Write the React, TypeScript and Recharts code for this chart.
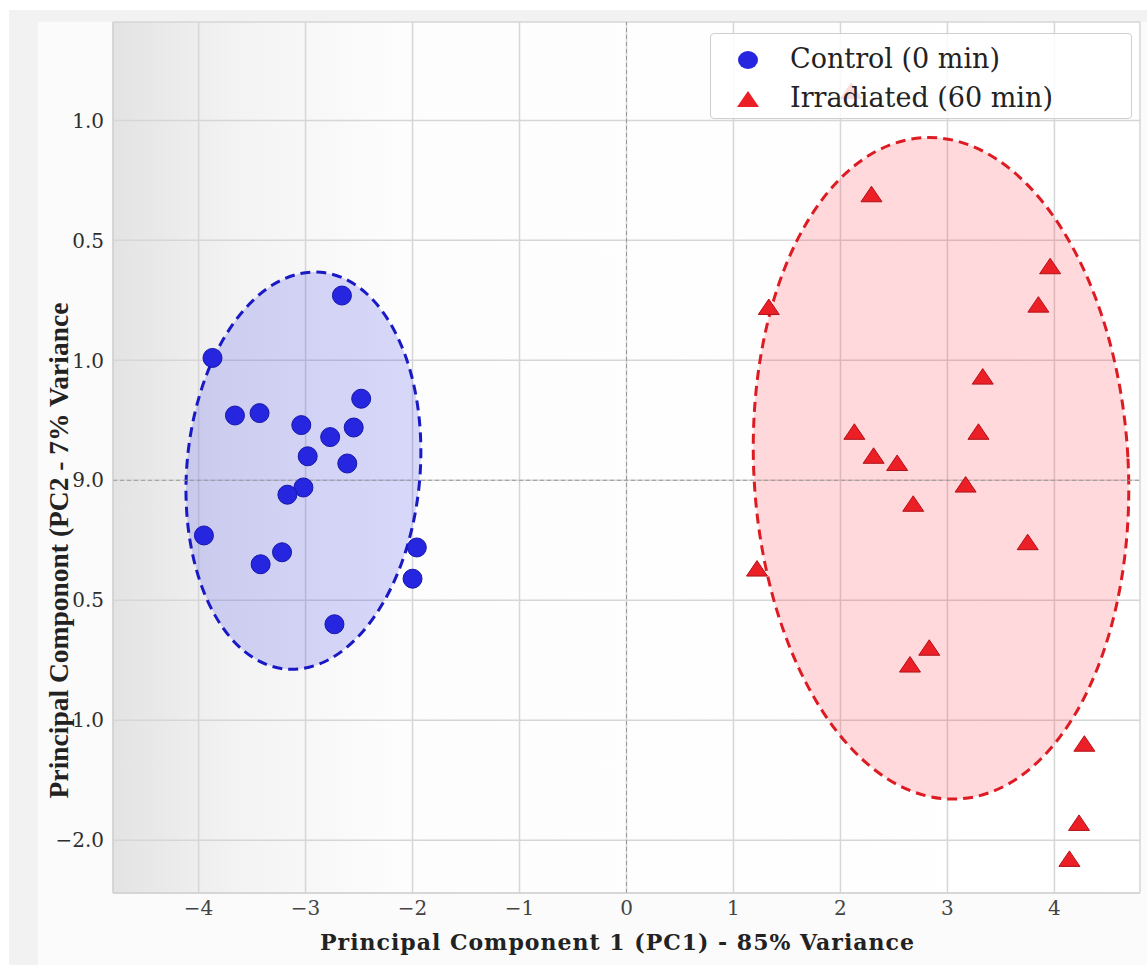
import {
  ScatterChart,
  Scatter,
  XAxis,
  YAxis,
  CartesianGrid,
  ReferenceLine,
  ReferenceArea,
  Legend,
} from "recharts";

// PC scores
const controlPC1 = [
  -2.66, -3.87, -2.48, -3.66, -3.43, -3.04, -2.55, -2.77, -2.98, -2.61, -3.02, -3.17, -3.95, -3.22, -3.42,
  -1.96, -2.0, -2.73,
];
const controlPC2 = [
  0.77, 0.51, 0.34, 0.27, 0.28, 0.23, 0.22, 0.18, 0.1, 0.07, -0.03, -0.06, -0.23, -0.3, -0.35, -0.28, -0.41,
  -0.6,
];

const irradiatedPC1 = [
  2.1, 2.29, 1.33, 3.96, 3.85, 3.33, 2.13, 3.29, 2.31, 2.53, 3.17, 2.68, 3.75, 1.22, 2.83, 2.65, 4.28, 4.23,
  4.14,
];
const irradiatedPC2 = [
  1.62, 1.19, 0.72, 0.89, 0.73, 0.43, 0.2, 0.2, 0.1, 0.07, -0.02, -0.1, -0.26, -0.37, -0.7, -0.77, -1.1, -1.43,
  -1.58,
];

// confidence ellipses: [centre x, centre y, radius x, radius y]
const controlEllipse = [-3.02, 0.04, 1.09, 0.83];
const irradiatedEllipse = [2.94, 0.05, 1.75, 1.38];

const xTicks = [-4, -3, -2, -1, 0, 1, 2, 3, 4];
const yTicks = [1.5, 1.0, 0.5, 0, -0.5, -1.0, -1.5];
const yTickLabels = ["1.0", "0.5", "1.0", "9.0", "0.5", "1.0", "\u22122.0"];

const controlData = controlPC1.map((x, i) => ({ x, y: controlPC2[i] }));
const irradiatedData = irradiatedPC1.map((x, i) => ({ x, y: irradiatedPC2[i] }));

const SERIF = "'DejaVu Serif', serif";

const BLUE = "#2626e0";
const RED = "#ec1f26";

const CircleDot = (p: any) => (
  <circle cx={p.cx} cy={p.cy} r={9.5} fill={BLUE} stroke="#1616a8" strokeWidth={1} />
);

const TriangleDot = (p: any) => (
  <polygon
    points={`${p.cx},${p.cy - 8.5} ${p.cx - 10.5},${p.cy + 7} ${p.cx + 10.5},${p.cy + 7}`}
    fill={RED}
    stroke="#b01218"
    strokeWidth={1}
  />
);

const ellipseShape = (stroke: string, fill: string, angle: number) => (p: any) => {
  const cx = p.x + p.width / 2;
  const cy = p.y + p.height / 2;
  return (
    <ellipse
      cx={cx}
      cy={cy}
      rx={Math.abs(p.width) / 2}
      ry={Math.abs(p.height) / 2}
      transform={`rotate(${angle} ${cx} ${cy})`}
      fill={fill}
      fillOpacity={0.15}
      stroke={stroke}
      strokeWidth={3}
      strokeDasharray="10 6"
    />
  );
};

const renderYTick = (p: any) => {
  const idx = yTicks.indexOf(p.payload.value);
  return (
    <text x={p.x} y={p.y} dy="0.36em" textAnchor="end" fill="#2e2e2e" fontSize={20} fontFamily={SERIF}>
      {yTickLabels[idx]}
    </text>
  );
};

const renderXTick = (p: any) => (
  <text x={p.x} y={p.y} dy="0.71em" textAnchor="middle" fill="#444" fontSize={20} fontFamily={SERIF}>
    {p.payload.value < 0 ? `\u2212${Math.abs(p.payload.value)}` : p.payload.value}
  </text>
);

const LegendBox = () => (
  <div
    style={{
      width: 422,
      height: 86,
      boxSizing: "border-box",
      border: "1px solid #cfcfcf",
      borderRadius: 4,
      background: "rgba(255,255,255,0.85)",
      fontFamily: SERIF,
      fontSize: 27,
      color: "#222",
      position: "relative",
    }}
  >
    <svg width={60} height={86} style={{ position: "absolute", left: 0, top: 0 }}>
      <ellipse cx={37} cy={26} rx={10} ry={9} fill={BLUE} />
      <polygon points="37,57 26,73 48,73" fill={RED} />
    </svg>
    <div style={{ position: "absolute", left: 79, top: 6, lineHeight: "38px" }}>Control (0 min)</div>
    <div style={{ position: "absolute", left: 79, top: 45, lineHeight: "38px" }}>Irradiated (60 min)</div>
  </div>
);

export default function App() {
  return (
    <div style={{ position: "absolute", left: 0, top: 0, width: 1147, height: 965, background: "#fff" }}>
      <div style={{ position: "absolute", left: 9, top: 10, right: 0, bottom: 0, background: "#f2f2f2" }} />
      <div style={{ position: "absolute", left: 38, top: 22, right: 0, bottom: 0, background: "#fbfbfb" }} />
      <div style={{ position: "absolute", left: 0, top: 0 }}>
        <ScatterChart width={1147} height={965} margin={{ top: 22, right: 7, bottom: 0, left: 0 }}>
          <defs>
            <linearGradient id="plotBg" x1="0" y1="0" x2="1" y2="0">
              <stop offset="0%" stopColor="#e3e3e3" />
              <stop offset="12%" stopColor="#f3f3f3" />
              <stop offset="28%" stopColor="#fdfdfd" />
              <stop offset="100%" stopColor="#ffffff" />
            </linearGradient>
          </defs>
          <CartesianGrid stroke="#d6d6d6" strokeWidth={1.5} fill="url(#plotBg)" />
          <XAxis
            type="number"
            dataKey="x"
            domain={[-4.8, 4.8]}
            ticks={xTicks}
            height={72}
            tickLine={false}
            axisLine={{ stroke: "#cfcfcf" }}
            tick={renderXTick}
            label={(p: any) => (
              <text
                x={p.viewBox.x + p.viewBox.width / 2 - 9}
                y={p.viewBox.y + 57}
                textAnchor="middle"
                fontSize={22}
                letterSpacing={1}
                fontWeight="bold"
                fontFamily={SERIF}
                fill="#222"
              >
                Principal Component 1 (PC1) - 85% Variance
              </text>
            )}
          />
          <YAxis
            type="number"
            dataKey="y"
            domain={[-1.72, 1.91]}
            ticks={yTicks}
            width={113}
            tickLine={false}
            tickMargin={3}
            axisLine={{ stroke: "#cfcfcf" }}
            tick={renderYTick}
            label={(p: any) => {
              const x = p.viewBox.x + 58;
              const y = p.viewBox.y + p.viewBox.height / 2 + 93;
              return (
                <text
                  x={x}
                  y={y}
                  dy="0.35em"
                  transform={`rotate(-90 ${x} ${y})`}
                  textAnchor="middle"
                  fontSize={27.5}
                  fontWeight="bold"
                  fontFamily="'Liberation Serif', serif"
                  fill="#222"
                >
                  Principal Componont (PC2 - 7% Variance
                </text>
              );
            }}
          />
          <ReferenceArea
            x1={controlEllipse[0] - controlEllipse[2]}
            x2={controlEllipse[0] + controlEllipse[2]}
            y1={controlEllipse[1] - controlEllipse[3]}
            y2={controlEllipse[1] + controlEllipse[3]}
            shape={ellipseShape("#1a1ac4", "#0000e6", 5)}
          />
          <ReferenceArea
            x1={irradiatedEllipse[0] - irradiatedEllipse[2]}
            x2={irradiatedEllipse[0] + irradiatedEllipse[2]}
            y1={irradiatedEllipse[1] - irradiatedEllipse[3]}
            y2={irradiatedEllipse[1] + irradiatedEllipse[3]}
            shape={ellipseShape("#dc1c22", "#ff0014", -3)}
          />
          <ReferenceLine x={0} stroke="#999" strokeDasharray="4 3" />
          <ReferenceLine y={0} stroke="#999" strokeDasharray="4 3" />
          <Scatter name="Control (0 min)" data={controlData} shape={CircleDot} isAnimationActive={false} />
          <Scatter
            name="Irradiated (60 min)"
            data={irradiatedData}
            shape={TriangleDot}
            isAnimationActive={false}
          />
          <Legend
            layout="vertical"
            align="center"
            verticalAlign="middle"
            content={<LegendBox />}
            wrapperStyle={{ position: "absolute", left: 710, top: 33, width: 422, height: 86 }}
          />
        </ScatterChart>
      </div>
    </div>
  );
}
